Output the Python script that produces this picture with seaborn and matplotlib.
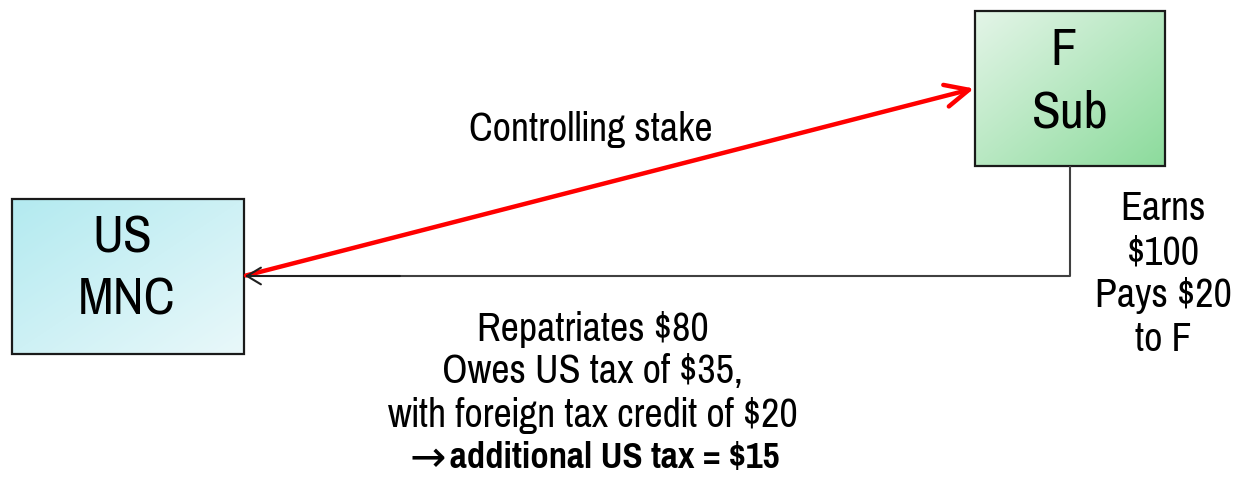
import numpy as np
import matplotlib
matplotlib.use("Agg")
import matplotlib.pyplot as plt
import seaborn as sns
from matplotlib.patches import Rectangle, FancyArrowPatch
from matplotlib import font_manager

sns.set_theme(style="white")

names = set(f.name for f in font_manager.fontManager.ttflist)
prefs = ["Liberation Sans Narrow", "Arial Narrow", "Pragati Narrow", "Roboto Condensed",
         "PT Sans Narrow", "Archivo Narrow", "Liberation Sans"]
narrow = next(p for p in prefs if p in names or p == "Liberation Sans")
FAM = [narrow, 'DejaVu Sans']
plt.rcParams['font.family'] = FAM

# ---- content ----
box_labels = [["US", "MNC"], ["F", "Sub"]]
box_colors_start = ["#b3eaf0", "#e4f5e8"]
box_colors_end = ["#e9f8fa", "#8cdb9c"]
stake_label = "Controlling stake"
sub_lines = ["Earns", "$100", "Pays $20", "to F"]
repat_lines = ["Repatriates $80", "Owes US tax of $35,", "with foreign tax credit of $20"]
final_arrow = "\u2192"
final_line = "additional US tax = $15"

W, H = 1235, 478
fig = plt.figure(figsize=(W / 100, H / 100), dpi=100)
ax = fig.add_axes([0, 0, 1, 1])
ax.set_xlim(0, W)
ax.set_ylim(H, 0)
ax.axis("off")
renderer = fig.canvas.get_renderer()

def text_w(s, size, **kw):
    t = ax.text(0, 0, s, fontsize=size, **kw)
    w = t.get_window_extent(renderer).width
    t.remove()
    return w

def fit_size(s, target_w, **kw):
    return 20 * target_w / text_w(s, 20, **kw)

# box geometry (x0, y0, x1, y1) in pixel space
boxes = [(12, 199, 244, 354), (975, 11, 1165, 166)]

def grad_box(b, c0, c1):
    x0, y0, x1, y1 = b
    rgb0 = np.array(matplotlib.colors.to_rgb(c0))
    rgb1 = np.array(matplotlib.colors.to_rgb(c1))
    n = 200
    xx, yy = np.meshgrid(np.linspace(0, 1, n), np.linspace(0, 1, n))
    t = (xx + yy) / 2
    img = rgb0[None, None, :] * (1 - t[..., None]) + rgb1[None, None, :] * t[..., None]
    ax.imshow(img, extent=(x0, x1, y1, y0), origin="upper", zorder=1,
              interpolation="bilinear", aspect="auto")
    ax.add_patch(Rectangle((x0, y0), x1 - x0, y1 - y0, fill=False,
                           edgecolor="#1a1a1a", lw=1.6, zorder=2))

for b, c0, c1 in zip(boxes, box_colors_start, box_colors_end):
    grad_box(b, c0, c1)

ax.set_xlim(0, W)
ax.set_ylim(H, 0)

# sizes fitted to reference widths
big = fit_size("MNC", 92) * 1.06
reg = fit_size("with foreign tax credit of $20", 410)
bold = fit_size(final_line, 330, fontweight="bold")

# box labels
ax.text(122, 238, box_labels[0][0], fontsize=big, ha="center", va="center", color="black", zorder=3)
ax.text(127, 300, box_labels[0][1], fontsize=big, ha="center", va="center", color="black", zorder=3)
ax.text(1064, 50, box_labels[1][0], fontsize=big, ha="center", va="center", color="black", zorder=3)
ax.text(1070, 113, box_labels[1][1], fontsize=big, ha="center", va="center", color="black", zorder=3)

# connector from F Sub down and left to US MNC
ax.plot([1070, 1070, 300], [166, 276, 276], color="#404040", lw=1.5, zorder=2,
        solid_capstyle="butt")
ax.add_patch(FancyArrowPatch((400, 276), (245, 276), arrowstyle="->,head_length=10,head_width=6",
                             color="#202020", lw=1.5, mutation_scale=1, zorder=5,
                             shrinkA=0, shrinkB=0))

# red arrow (controlling stake)
ax.add_patch(FancyArrowPatch((246, 275.5), (974, 88.5),
                             arrowstyle="->,head_length=17,head_width=8",
                             color="#ff0000", lw=3.2, mutation_scale=1, zorder=4,
                             shrinkA=0, shrinkB=0))

ax.text(591, 130, stake_label, fontsize=reg, ha="center", va="center", color="black")

for i, s in enumerate(sub_lines):
    ax.text(1163, 209 + i * 43.5, s, fontsize=reg, ha="center", va="center", color="black")

for i, s in enumerate(repat_lines):
    ax.text(593, 329 + i * 43, s, fontsize=reg, ha="center", va="center", color="black")
# final line: thin arrow + bold text
ax.text(446, 329 + 3 * 43 + 1, final_arrow, fontsize=reg, ha="right", va="center",
        color="black", family=["DejaVu Sans"])
ax.text(450, 329 + 3 * 43, final_line, fontsize=bold, ha="left", va="center",
        color="black", fontweight="bold")

fig.savefig("out.png", dpi=100)
